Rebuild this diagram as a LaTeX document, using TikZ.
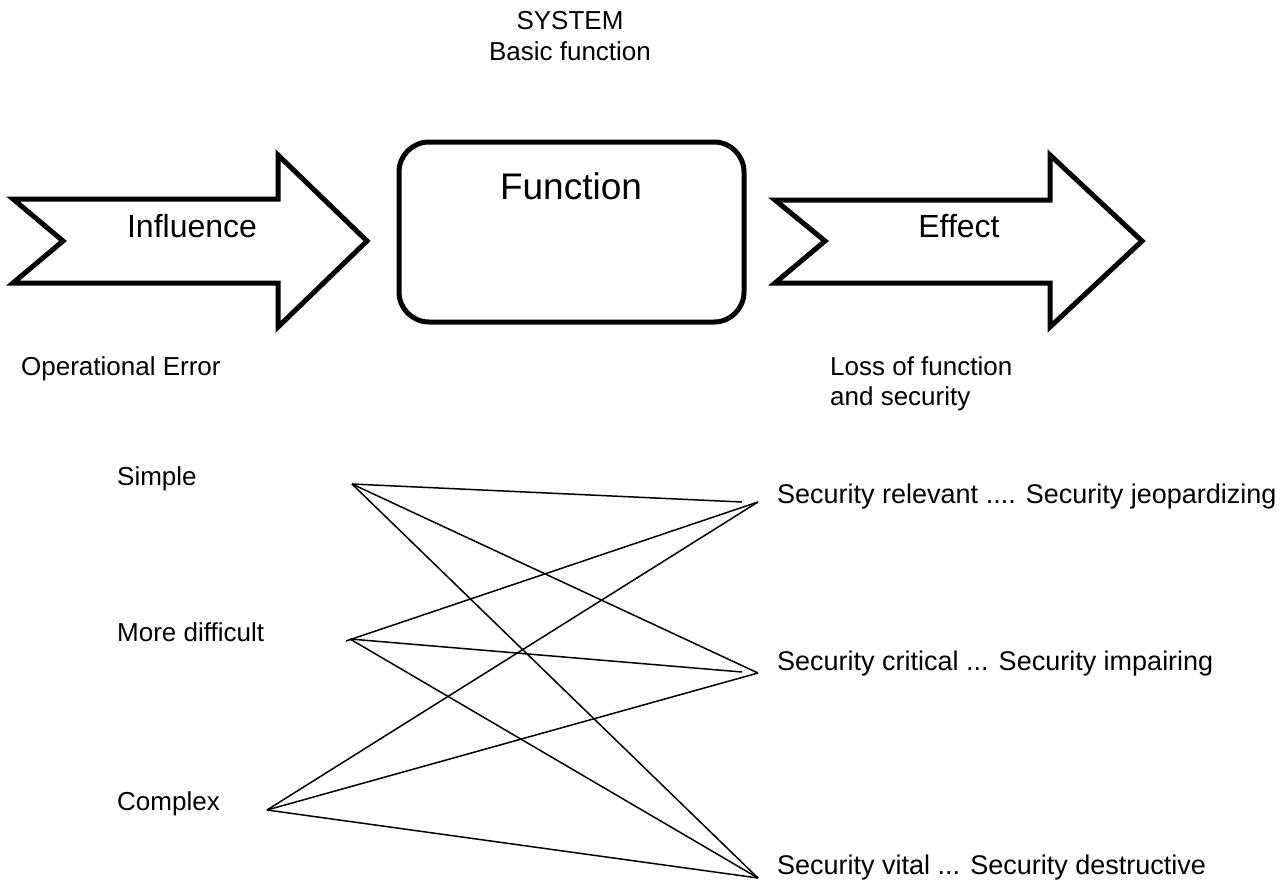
\documentclass[tikz,border=0pt]{standalone}
\usepackage{fontspec}
\setmainfont{Liberation Sans}
\tikzset{
  blockarrow/.style={draw=black, line width=5pt, miter limit=10, line join=miter, fill=white},
  fnbox/.style={draw=black, line width=5pt, rounded corners=30pt, minimum width=345pt, minimum height=180pt, inner sep=0pt, fill=white},
  smalltext/.style={font=\fontsize{26}{30}\selectfont, inner sep=0pt, align=left},
  classtext/.style={font=\fontsize{27}{30}\selectfont, inner sep=0pt, align=left},
  bigtext/.style={font=\fontsize{32}{36}\selectfont, inner sep=0pt},
  link/.style={draw=black, line width=1.5pt}
}
\begin{document}
\begin{tikzpicture}[x=1pt,y=-1pt]
\useasboundingbox (0,0) rectangle (1283,883);

% header
\node[smalltext, anchor=base] (sys) at (570,30) {SYSTEM};
\node[smalltext, anchor=base] (basic) at (570,60) {Basic function};

% input arrow
\draw[blockarrow] (13,199) -- (278,199) -- (278,155) -- (367,241) -- (278,327)
  -- (278,283) -- (13,283) -- (63,241) -- cycle;
\node[bigtext] (infl) at (192,226) {Influence};

% function block
\node[fnbox] (fn) at (571.5,232) {};
\node[font=\fontsize{37}{40}\selectfont, inner sep=0pt] (fnlabel) at (571,186) {Function};

% output arrow
\draw[blockarrow] (775,200) -- (1050,200) -- (1050,155) -- (1142,241) -- (1050,327)
  -- (1050,283) -- (775,283) -- (825,241) -- cycle;
\node[bigtext] (eff) at (959,226) {Effect};

% captions
\node[smalltext, anchor=base west] (operr) at (21,375) {Operational Error};
\node[smalltext, anchor=base west] (loss1) at (830,375) {Loss of function};
\node[smalltext, anchor=base west] (loss2) at (830,405) {and security};

% error classes
\node[smalltext, anchor=base west] (simple) at (117,485) {Simple};
\node[smalltext, anchor=base west] (harder) at (117,641) {More difficult};
\node[smalltext, anchor=base west] (complex) at (117,810) {Complex};

% consequence classes
\node[classtext, anchor=base west] (rel) at (777,503) {Security relevant .... Security jeopardizing};
\node[classtext, anchor=base west] (crit) at (777,670) {Security critical ... Security impairing};
\node[classtext, anchor=base west] (vital) at (777,874) {Security vital ... Security destructive};

% line end points
\coordinate (s) at (352,484);
\coordinate (m) at (350,639);
\coordinate (m0) at (346,641);
\coordinate (c) at (267,810);
\coordinate (r) at (758,502);
\coordinate (ra) at (742,502);
\coordinate (k) at (758,673);
\coordinate (ka) at (742,672);
\coordinate (v) at (758,878);

% links
\draw[link] (s) -- (ra);
\draw[link] (s) -- (k);
\draw[link] (s) -- (v);
\draw[link] (m0) -- (r);
\draw[link] (m) -- (ka);
\draw[link] (m) -- (v);
\draw[link] (c) -- (r);
\draw[link] (c) -- (k);
\draw[link] (c) -- (v);
\end{tikzpicture}
\end{document}
